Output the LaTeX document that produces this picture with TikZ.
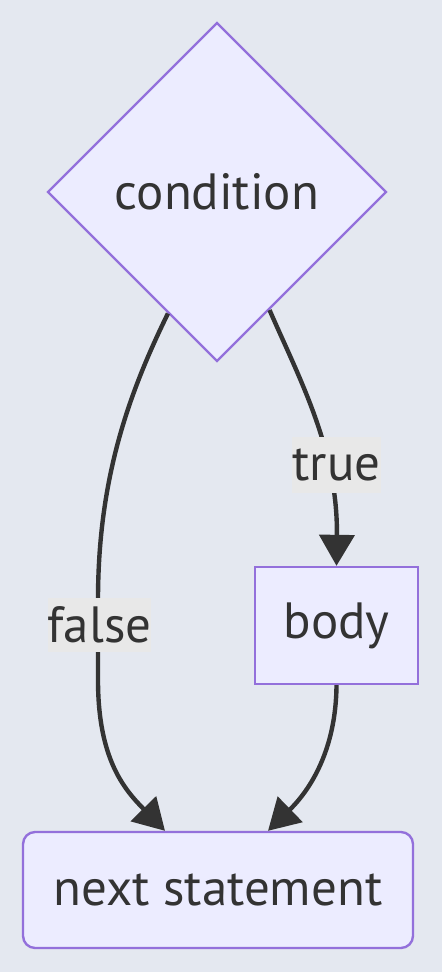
\documentclass[tikz,border=0pt]{standalone}
\usepackage{fontspec}
\setmainfont{PT Sans}
\usetikzlibrary{shapes.geometric,arrows.meta,calc}
\definecolor{bgc}{HTML}{E4E8F0}
\definecolor{nodefill}{HTML}{ECECFF}
\definecolor{nodeline}{HTML}{9370DB}
\definecolor{ink}{HTML}{333333}
\definecolor{lblfill}{HTML}{E8E8E8}

\begin{document}
\begin{tikzpicture}[x=0.02cm,y=-0.02cm,>={Triangle[length=0.62cm,width=0.70cm]},
  box/.style={draw=nodeline,fill=nodefill,line width=1.35pt,text=ink,inner sep=0pt,font=\fontsize{29}{35}\selectfont},
  edge/.style={->,draw=ink,line width=2.5pt},
  lbl/.style={fill=lblfill,text=ink,inner sep=0pt,font=\fontsize{29}{35}\selectfont}]
  \fill[bgc] (0,0) rectangle (442,972);
  \useasboundingbox (0,0) rectangle (442,972);
  % nodes
  \node[box,diamond,minimum width=6.78cm,minimum height=6.78cm] (cond) at (217,192) {condition};
  \node[box,minimum width=3.26cm,minimum height=2.34cm] (body) at (336.5,625.5) {body};
  \node[box,rounded corners=0.24cm,minimum width=7.8cm,minimum height=2.32cm] (next) at (218,890) {next statement};
  % edges
  \draw[edge] (cond.-112.6) .. controls (128,395) and (98,480) .. (98,600) -- (98,680)
    .. controls (98,760) and (125,790) .. ($(next.north)+(-53,0)$);
  \draw[edge] (cond.-66.2) .. controls (300,380) and (338,450) .. (body.north);
  \draw[edge] (body.south) .. controls (336,750) and (310,790) .. ($(next.north)+(50,0)$);
  % edge labels
  \node[lbl,minimum width=2.06cm,minimum height=1.1cm] (lfalse) at (99.5,625) {false};
  \node[lbl,minimum width=1.78cm,minimum height=1.12cm] (ltrue) at (336.5,465) {true};
\end{tikzpicture}
\end{document}
